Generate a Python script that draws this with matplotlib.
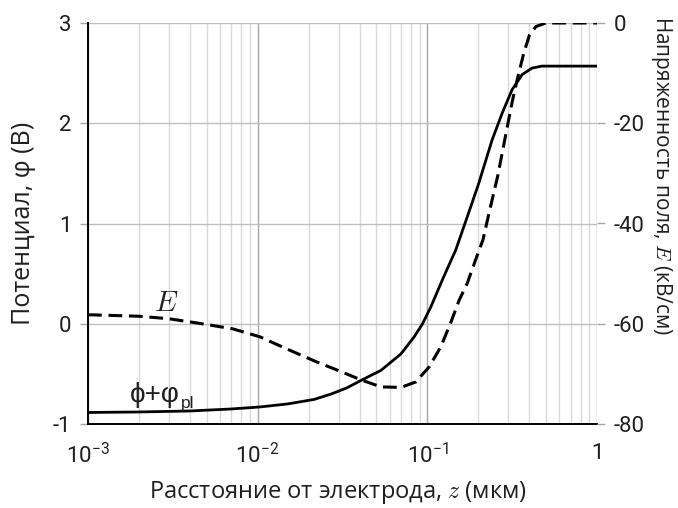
import matplotlib
matplotlib.use("Agg")
import matplotlib.pyplot as plt
from matplotlib import font_manager
from matplotlib.ticker import FixedLocator, FixedFormatter, LogLocator, NullFormatter

# distance from electrode, um
z_phi = [0.001, 0.002, 0.004, 0.007, 0.0103, 0.015, 0.0215, 0.0272, 0.0335,
         0.0407, 0.0533, 0.07, 0.0837, 0.0937, 0.105, 0.125, 0.147, 0.169,
         0.2, 0.241, 0.276, 0.316, 0.362, 0.414, 0.473, 0.55, 1.0]
# potential phi + phi_pl, V
phi = [-0.885, -0.88, -0.87, -0.85, -0.83, -0.80, -0.755, -0.70, -0.64,
       -0.565, -0.465, -0.30, -0.13, 0.0, 0.17, 0.47, 0.735, 1.03,
       1.39, 1.835, 2.10, 2.335, 2.485, 2.55, 2.57, 2.57, 2.57]

z_E = [0.001, 0.002, 0.003, 0.0045, 0.0071, 0.0103, 0.0148, 0.0222, 0.0297,
       0.0407, 0.0533, 0.07, 0.0856, 0.1025, 0.12, 0.137, 0.154, 0.172,
       0.197, 0.213, 0.23, 0.26, 0.289, 0.316, 0.338, 0.37, 0.40, 0.437,
       0.50, 1.0]
# field strength, kV/cm
E = [-58.2, -58.5, -59.0, -59.9, -61.0, -62.6, -65.0, -67.6, -69.3,
     -71.2, -72.6, -72.7, -71.6, -68.6, -64.6, -59.9, -55.3, -51.9,
     -46.3, -43.2, -38.2, -30.5, -22.5, -15.8, -11.4, -6.05, -2.4, -0.7,
     0.0, 0.0]

x_ticks = [1e-3, 1e-2, 1e-1, 1]
x_tick_labels = [r"$\mathdefault{10^{-3}}$", r"$\mathdefault{10^{-2}}$",
                 r"$\mathdefault{10^{-1}}$", "1"]
phi_ticks = [-1, 0, 1, 2, 3]
E_ticks = [-80, -60, -40, -20, 0]

installed = {f.name for f in font_manager.fontManager.ttflist}
tick_font = "Liberation Sans Narrow" if "Liberation Sans Narrow" in installed else "Roboto"

plt.rcParams["mathtext.fontset"] = "cm"
plt.rcParams["axes.unicode_minus"] = False
plt.rcParams["font.family"] = ["Open Sans", "DejaVu Sans"]

TXT = "#1f1f1f"

fig = plt.figure(figsize=(6.78, 5.08), dpi=100)
ax = fig.add_axes([88 / 678, 84 / 508, 509 / 678, 401 / 508])
ax2 = ax.twinx()

ax.set_xscale("log")
ax.set_xlim(1e-3, 1)
ax.set_ylim(-1, 3)
ax2.set_ylim(-80, 0)

# grid
ax.xaxis.set_major_locator(FixedLocator(x_ticks))
ax.xaxis.set_major_formatter(FixedFormatter(x_tick_labels))
ax.xaxis.set_minor_locator(LogLocator(base=10, subs=range(2, 10)))
ax.xaxis.set_minor_formatter(NullFormatter())
ax.grid(True, which="major", axis="x", color="#a6a6a6", lw=1.0)
ax.grid(True, which="minor", axis="x", color="#d9d9d9", lw=1.0)
ax.grid(True, which="major", axis="y", color="#bfbfbf", lw=1.0)
ax.set_axisbelow(True)

ax.plot(z_phi, phi, color="black", lw=2.0, solid_capstyle="butt",
        solid_joinstyle="round", zorder=3)
ax2.plot(z_E, E, color="black", lw=2.2, dashes=(4.5, 2.2), zorder=3)

for s in ["top", "right"]:
    ax.spines[s].set_visible(False)
    ax2.spines[s].set_visible(False)
ax2.spines["left"].set_visible(False)
ax2.spines["bottom"].set_visible(False)
ax.spines["left"].set_color("black")
ax.spines["left"].set_linewidth(1.4)
ax.spines["bottom"].set_color("black")
ax.spines["bottom"].set_linewidth(1.4)

ax.set_yticks(phi_ticks)
ax2.set_yticks(E_ticks)
ax.tick_params(axis="y", length=6, width=1, color="#a6a6a6", pad=6)
ax2.tick_params(axis="y", length=6, width=1, color="#a6a6a6", pad=6)
ax.tick_params(axis="x", which="both", length=0, pad=14)

for lab in ax.get_xticklabels() + ax.get_yticklabels() + ax2.get_yticklabels():
    lab.set_fontfamily([tick_font, "DejaVu Sans"])
    lab.set_fontsize(16)
    lab.set_color(TXT)

ax.set_xlabel(r"Расстояние от электрода, $z$ (мкм)", fontsize=17, color=TXT)
ax.xaxis.label.set_va("center")
ax.xaxis.set_label_coords(0.49, -0.17)
ax.set_ylabel("Потенциал, φ (В)", fontsize=18, color=TXT)
ax.yaxis.label.set_va("center")
ax.yaxis.set_label_coords(-0.126, 0.5)
ax2.set_ylabel(r"Напряженность поля, $E$ (кВ/см)", fontsize=15, rotation=270,
               color=TXT)
ax2.yaxis.label.set_va("center")
ax2.yaxis.set_label_coords(1.127, 0.62)

# curve labels
ax.text(0.00289, 0.205, r"$E$", fontsize=21, ha="center", va="center",
        color=TXT)
t = ax.text(0.00177, -0.78, "ϕ+φ", fontsize=20, ha="left", va="baseline",
            family=["Liberation Sans", "DejaVu Sans"], color=TXT)
ax.annotate("pl", xy=(1, 0), xycoords=t, xytext=(0.5, -2),
            textcoords="offset points", fontsize=12.5, ha="left", va="bottom",
            family=["Liberation Sans", "DejaVu Sans"], color=TXT)

fig.savefig("out.png", dpi=100)
